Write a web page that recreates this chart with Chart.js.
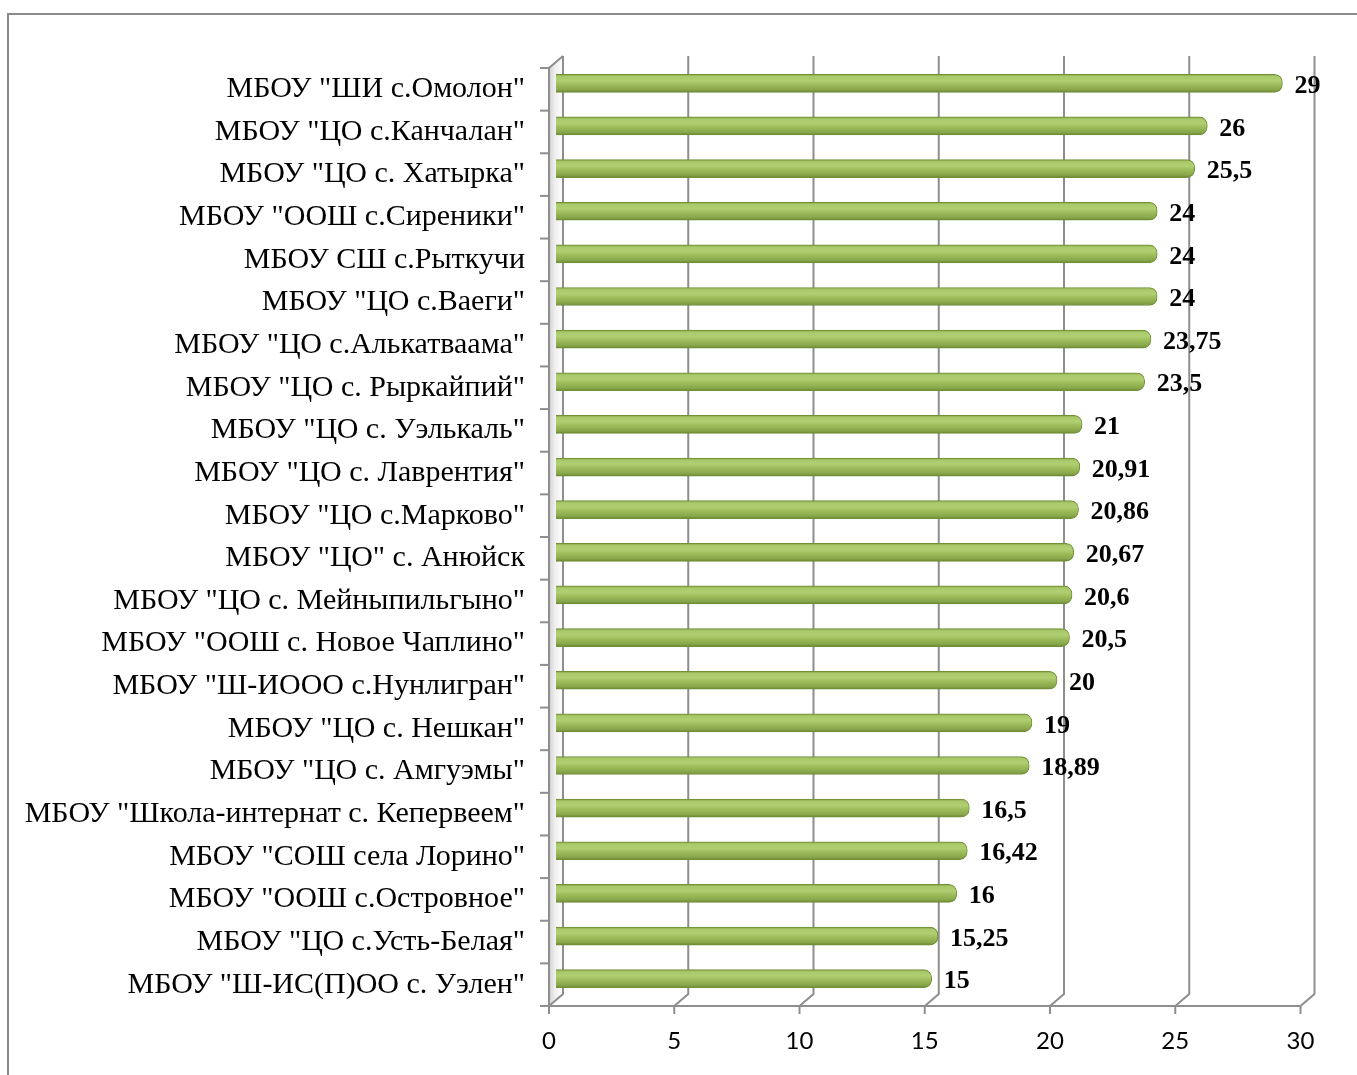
<!DOCTYPE html>
<html>
<head>
<meta charset="utf-8">
<script src="https://cdn.jsdelivr.net/npm/chart.js@4.4.1/dist/chart.umd.min.js"></script>
<style>
  html, body { margin: 0; padding: 0; background: #fff; }
  #wrap { width: 1357px; height: 1075px; position: relative; }
</style>
</head>
<body>
<div id="wrap"><canvas id="chart" width="1357" height="1075"></canvas></div>
<script>
// ── Données ──
const schools = [
  'МБОУ "ШИ с.Омолон"',
  'МБОУ "ЦО с.Канчалан"',
  'МБОУ "ЦО с. Хатырка"',
  'МБОУ "ООШ с.Сиреники"',
  'МБОУ СШ с.Рыткучи',
  'МБОУ "ЦО с.Ваеги"',
  'МБОУ "ЦО с.Алькатваама"',
  'МБОУ "ЦО с. Рыркайпий"',
  'МБОУ "ЦО с. Уэлькаль"',
  'МБОУ "ЦО с. Лаврентия"',
  'МБОУ "ЦО с.Марково"',
  'МБОУ "ЦО" с. Анюйск',
  'МБОУ "ЦО с. Мейныпильгыно"',
  'МБОУ "ООШ с. Новое Чаплино"',
  'МБОУ "Ш-ИООО с.Нунлигран"',
  'МБОУ "ЦО с. Нешкан"',
  'МБОУ "ЦО с. Амгуэмы"',
  'МБОУ "Школа-интернат с. Кепервеем"',
  'МБОУ "СОШ села Лорино"',
  'МБОУ "ООШ с.Островное"',
  'МБОУ "ЦО с.Усть-Белая"',
  'МБОУ "Ш-ИС(П)ОО с. Уэлен"'
];
const scores = [29, 26, 25.5, 24, 24, 24, 23.75, 23.5, 21, 20.91, 20.86, 20.67,
                20.6, 20.5, 20, 19, 18.89, 16.5, 16.42, 16, 15.25, 15];
const xTicks = [0, 5, 10, 15, 20, 25, 30];

// profondeur de l'effet 3D (décalage plan avant / plan arrière)
const DX = 7, DY = 6;
const LINE = '#8e8e8e';

function fmt(v) { return String(v).replace('.', ','); }

function barGradient(ctx) {
  const chart = ctx.chart;
  const y = chart.scales && chart.scales.y;
  if (ctx.dataIndex === undefined || !y) return '#9bbb59';
  const c = y.getPixelForValue(ctx.dataIndex);
  if (!isFinite(c)) return '#9bbb59';
  const g = chart.ctx.createLinearGradient(0, c - 9, 0, c + 9);
  g.addColorStop(0, '#86a345');
  g.addColorStop(0.12, '#a9c96a');
  g.addColorStop(0.35, '#b0cf72');
  g.addColorStop(0.6, '#9bbb59');
  g.addColorStop(0.86, '#88a64a');
  g.addColorStop(1, '#6a8532');
  return g;
}

// ── Cadre, parois et grille 3D ──
const walls = {
  id: 'walls',
  beforeDatasetsDraw(chart) {
    const { ctx, chartArea: a, scales: { x } } = chart;
    const fl = a.left - DX, fb = a.bottom + DY, ft = a.top + DY;  // plan avant
    const bl = a.left + DX, bb = a.bottom - DY, bt = a.top - DY;  // plan arrière
    ctx.save();

    // cadre extérieur
    ctx.strokeStyle = '#8a8a8a';
    ctx.lineWidth = 2;
    ctx.strokeRect(8, 14, 1360, 1080);

    // paroi gauche
    const wg = ctx.createLinearGradient(fl, 0, bl, 0);
    wg.addColorStop(0, '#d0d0d0');
    wg.addColorStop(0.4, '#eeeeee');
    wg.addColorStop(1, '#ffffff');
    ctx.fillStyle = wg;
    ctx.beginPath();
    ctx.moveTo(fl, ft); ctx.lineTo(bl, bt); ctx.lineTo(bl, bb); ctx.lineTo(fl, fb);
    ctx.closePath();
    ctx.fill();

    ctx.strokeStyle = LINE;
    ctx.lineWidth = 2;

    // lignes de grille verticales (plan arrière) + diagonales du sol
    xTicks.forEach(v => {
      const px = x.getPixelForValue(v);
      ctx.beginPath();
      ctx.moveTo(px + DX, bt);
      ctx.lineTo(px + DX, bb);
      ctx.lineTo(px - DX, fb);
      ctx.stroke();
      // graduation
      ctx.beginPath();
      ctx.moveTo(px - DX, fb);
      ctx.lineTo(px - DX, fb + 8);
      ctx.stroke();
    });

    // axe avant horizontal
    ctx.beginPath();
    ctx.moveTo(fl, fb);
    ctx.lineTo(x.getPixelForValue(30) - DX, fb);
    ctx.stroke();

    // axe vertical avant + haut de paroi
    ctx.beginPath();
    ctx.moveTo(bl, bt);
    ctx.lineTo(fl, ft);
    ctx.lineTo(fl, fb);
    ctx.stroke();

    // graduations catégories
    const band = (a.bottom - a.top) / schools.length;
    for (let i = 0; i <= schools.length; i++) {
      const ty = ft + i * band;
      ctx.beginPath();
      ctx.moveTo(fl - 9, ty);
      ctx.lineTo(fl, ty);
      ctx.stroke();
    }
    ctx.restore();
  }
};

// ── Étiquettes de valeurs ──
const valueLabels = {
  id: 'valueLabels',
  afterDatasetsDraw(chart) {
    const { ctx } = chart;
    const meta = chart.getDatasetMeta(0);
    ctx.save();
    ctx.font = 'bold 26px "Liberation Serif", "Times New Roman", serif';
    ctx.fillStyle = '#000';
    ctx.textAlign = 'left';
    ctx.textBaseline = 'middle';
    meta.data.forEach((bar, i) => {
      ctx.fillText(fmt(scores[i]), bar.x + 12, bar.y + 3);
    });
    ctx.restore();
  }
};

new Chart(document.getElementById('chart'), {
  type: 'bar',
  data: {
    labels: schools,
    datasets: [{
      data: scores,
      backgroundColor: barGradient,
      borderColor: '#72903a',
      borderWidth: 1,
      borderSkipped: 'start',
      borderRadius: { topRight: 8, bottomRight: 8 },
      barThickness: 18
    }]
  },
  options: {
    indexAxis: 'y',
    responsive: false,
    animation: false,
    layout: { padding: { top: 62, right: 49.5, left: 0, bottom: 0 } },
    plugins: { legend: { display: false }, tooltip: { enabled: false } },
    scales: {
      x: {
        min: 0, max: 30,
        afterFit: s => { s.height = 75; },
        afterBuildTicks: s => { s.ticks = xTicks.map(v => ({ value: v })); },
        grid: { display: false, drawTicks: false },
        border: { display: false },
        ticks: {
          padding: 27,
          labelOffset: -DX,
          color: '#000',
          font: { family: 'Lato', size: 24 }
        }
      },
      y: {
        afterFit: s => { s.width = 556; },
        grid: { display: false, drawTicks: false },
        border: { display: false },
        ticks: {
          padding: 31,
          labelOffset: DY,
          color: '#000',
          autoSkip: false,
          font: { family: 'Liberation Serif', size: 30 }
        }
      }
    }
  },
  plugins: [walls, valueLabels]
});
</script>
</body>
</html>
